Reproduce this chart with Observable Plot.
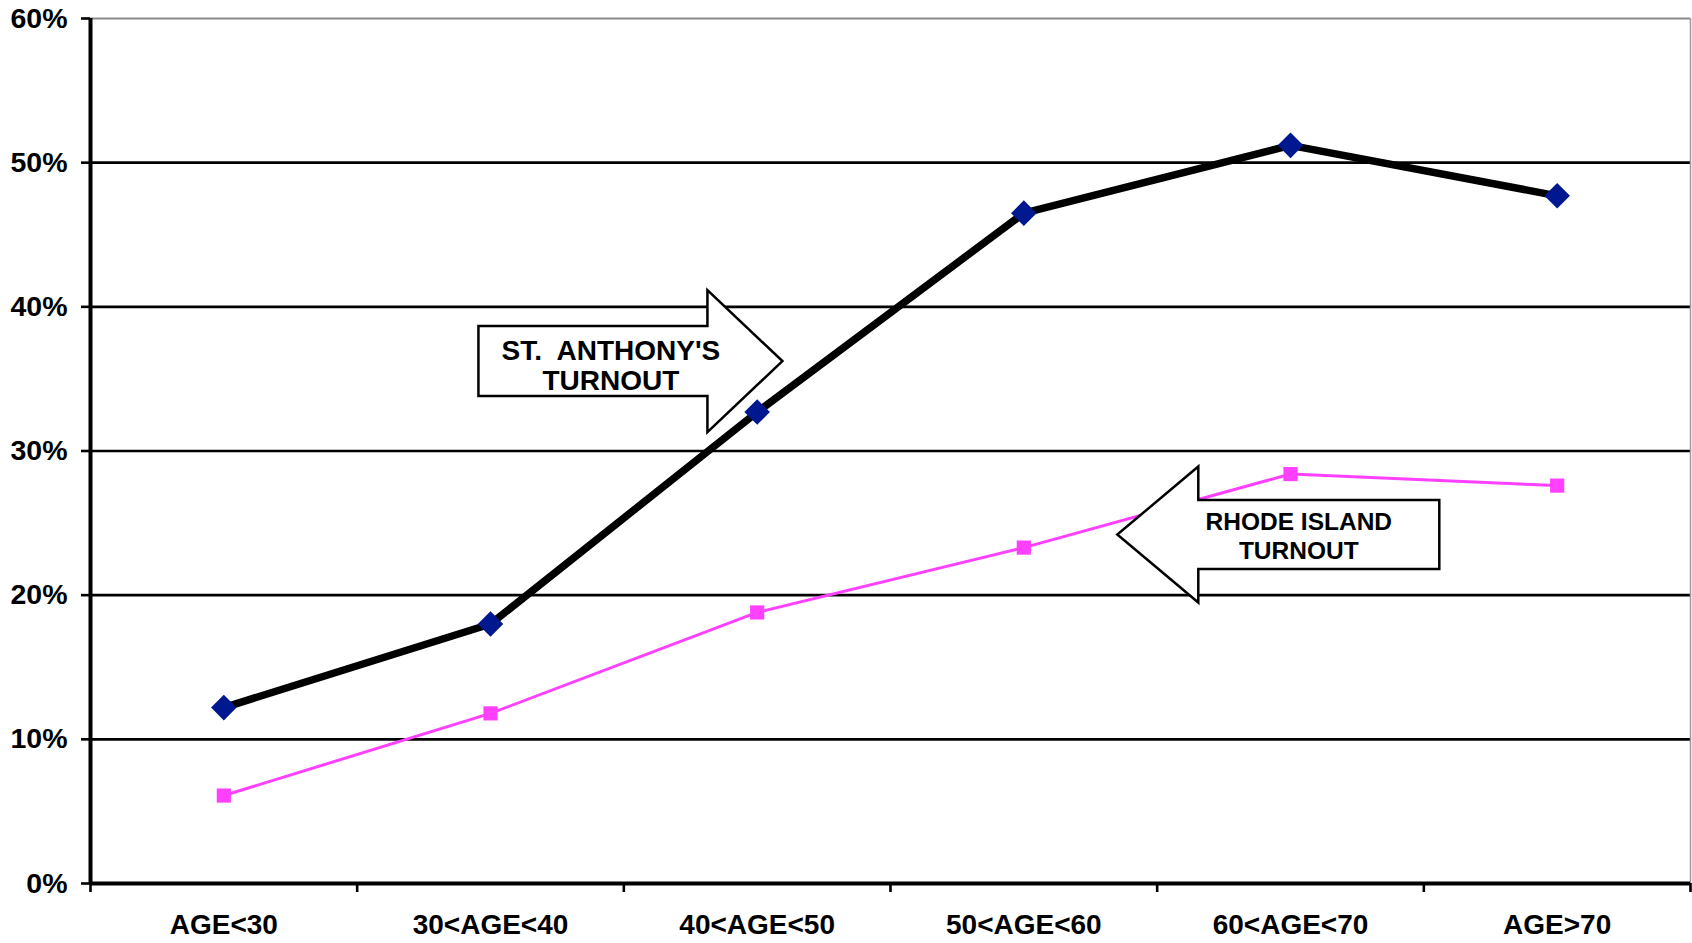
<!DOCTYPE html>
<html>
<head>
<meta charset="utf-8">
<script src="https://cdn.jsdelivr.net/npm/d3@7"></script>
<script src="https://cdn.jsdelivr.net/npm/@observablehq/plot@0.6"></script>
<style>
  html, body { margin: 0; padding: 0; background: #fff; }
  #chart svg { display: block; }
</style>
</head>
<body>
<div id="chart"></div>
<script>
// ---- data ----
const categories = ["AGE<30", "30<AGE<40", "40<AGE<50", "50<AGE<60", "60<AGE<70", "AGE>70"];
const stAnthony = [0.122, 0.180, 0.327, 0.465, 0.512, 0.477];
const rhodeIsland = [0.061, 0.118, 0.188, 0.233, 0.284, 0.276];
const yTicks = [0, 0.1, 0.2, 0.3, 0.4, 0.5, 0.6];
const gridTicks = [0.1, 0.2, 0.3, 0.4, 0.5];

// annotations (anchor of arrow body in data units; shape sizes in px)
const annotations = [
  {lines: ["ST.  ANTHONY'S", "TURNOUT"], x: 1.886, y: 0.362, dir: "right",
   bodyW: 229, bodyH: 70, headLen: 75, headH: 142, fontSize: 28, dx: 18, dys: [-11, 19]},
  {lines: ["RHODE ISLAND", "TURNOUT"], x: 4.608, y: 0.2417, dir: "left",
   bodyW: 241, bodyH: 69, headLen: 81, headH: 136, fontSize: 24.5, dx: -20, dys: [-13.5, 15.5]}
];

const saRows = categories.map((c, i) => ({cat: c, pos: i + 0.5, value: stAnthony[i]}));
const riRows = categories.map((c, i) => ({cat: c, pos: i + 0.5, value: rhodeIsland[i]}));

const font = "'Liberation Sans', Arial, Helvetica, sans-serif";

const plot = Plot.plot({
  width: 1692,
  height: 943,
  marginLeft: 90,
  marginRight: 2,
  marginTop: 18,
  marginBottom: 60,
  style: {fontFamily: font, fontSize: "28px", fontWeight: "bold", background: "#fff", color: "#000"},
  x: {type: "linear", domain: [0, categories.length], axis: null},
  y: {domain: [0, 0.6], axis: null},
  marks: [
    Plot.ruleY(gridTicks, {stroke: "#000", strokeWidth: 2.6}),
    Plot.ruleY([0.6], {stroke: "#8a8a8a", strokeWidth: 2.2}),
    Plot.ruleX([categories.length], {stroke: "#9a9a9a", strokeWidth: 1.5}),
    Plot.axisY({ticks: yTicks, tickFormat: d3.format(".0%"), tickSize: 9, tickPadding: 14,
      fontSize: 28.5, fontWeight: "bold", strokeWidth: 2.6, label: null}),
    Plot.axisX({ticks: d3.range(0, categories.length + 1), tickSize: 9, tickFormat: () => "",
      strokeWidth: 2.6, label: null}),
    Plot.axisX({ticks: categories.map((c, i) => i + 0.5), tickSize: 0, tickPadding: 31,
      tickFormat: v => categories[Math.floor(v)], fontSize: 28, fontWeight: "bold", label: null}),
    Plot.ruleX([0], {stroke: "#000", strokeWidth: 4}),
    Plot.ruleY([0], {stroke: "#000", strokeWidth: 4}),
    Plot.line(riRows, {x: "pos", y: "value", stroke: "#ff40ff", strokeWidth: 3}),
    Plot.dot(riRows, {x: "pos", y: "value", symbol: "square", r: 8, fill: "#ff40ff", stroke: "none"}),
    Plot.line(saRows, {x: "pos", y: "value", stroke: "#000", strokeWidth: 7.5}),
    Plot.dot(saRows, {x: "pos", y: "value", symbol: "diamond2", r: 11.5, fill: "#00188f", stroke: "none"})
  ]
});

document.getElementById("chart").appendChild(plot);

// arrows with labels, positioned through Plot's scales
const sx = plot.scale("x"), sy = plot.scale("y");
const svg = d3.select(plot);
for (const a of annotations) {
  const cx = sx.apply(a.x), cy = sy.apply(a.y);
  const l = cx - a.bodyW / 2, r = cx + a.bodyW / 2;
  const t = cy - a.bodyH / 2, b = cy + a.bodyH / 2;
  let pts;
  if (a.dir === "right") {
    pts = [[l, t], [r, t], [r, cy - a.headH / 2], [r + a.headLen, cy], [r, cy + a.headH / 2], [r, b], [l, b]];
  } else {
    pts = [[r, t], [l, t], [l, cy - a.headH / 2], [l - a.headLen, cy], [l, cy + a.headH / 2], [l, b], [r, b]];
  }
  const g = svg.append("g");
  g.append("polygon")
    .attr("points", pts.map(p => p.join(",")).join(" "))
    .attr("fill", "#fff").attr("stroke", "#000").attr("stroke-width", 2.5)
    .attr("stroke-linejoin", "miter");
  a.lines.forEach((line, k) => {
    g.append("text")
      .attr("x", cx + a.dx).attr("y", cy + a.dys[k])
      .attr("text-anchor", "middle").attr("dominant-baseline", "central")
      .attr("font-family", font).attr("font-weight", "bold").attr("font-size", a.fontSize)
      .attr("fill", "#000")
      .style("white-space", "pre")
      .text(line);
  });
}
</script>
</body>
</html>
